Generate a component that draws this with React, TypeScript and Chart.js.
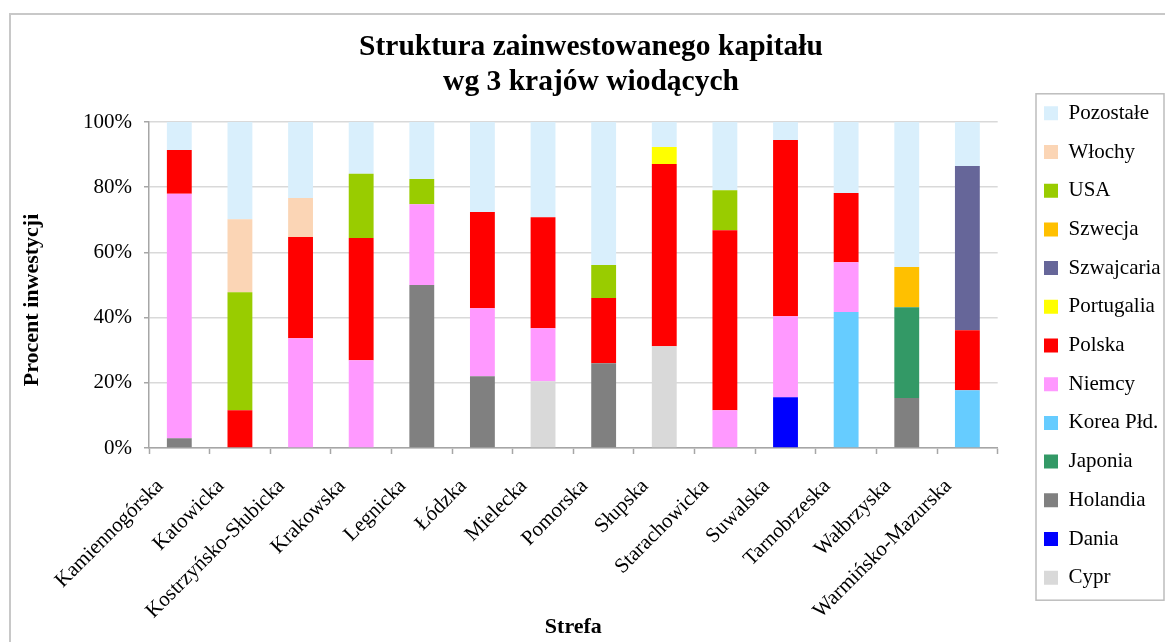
import React, { useEffect, useRef } from 'react';
import { Chart, registerables } from 'chart.js';

Chart.register(...registerables);

const categories = [
  'Kamiennogórska', 'Katowicka', 'Kostrzyńsko-Słubicka', 'Krakowska', 'Legnicka', 'Łódzka',
  'Mielecka', 'Pomorska', 'Słupska', 'Starachowicka', 'Suwalska', 'Tarnobrzeska',
  'Wałbrzyska', 'Warmińsko-Mazurska',
];

// values in % (bottom -> top of each stack)
const cypr =        [0, 0, 0, 0, 0, 0, 20.5, 0, 31.2, 0, 0, 0, 0, 0];
const dania =       [0, 0, 0, 0, 0, 0, 0, 0, 0, 0, 15.6, 0, 0, 0];
const holandia =    [3, 0, 0, 0, 50, 22, 0, 26, 0, 0, 0, 0, 15.3, 0];
const japonia =     [0, 0, 0, 0, 0, 0, 0, 0, 0, 0, 0, 0, 27.9, 0];
const koreaPld =    [0, 0, 0, 0, 0, 0, 0, 0, 0, 0, 0, 41.7, 0, 17.7];
const niemcy =      [75, 0, 33.7, 26.9, 24.8, 20.9, 16.2, 0, 0, 11.6, 24.8, 15.3, 0, 0];
const polska =      [13.4, 11.6, 31, 37.5, 0, 29.5, 34.1, 20, 55.9, 55.2, 54.1, 21.2, 0, 18.4];
const portugalia =  [0, 0, 0, 0, 0, 0, 0, 0, 5.2, 0, 0, 0, 0, 0];
const szwajcaria =  [0, 0, 0, 0, 0, 0, 0, 0, 0, 0, 0, 0, 0, 50.4];
const szwecja =     [0, 0, 0, 0, 0, 0, 0, 0, 0, 0, 0, 0, 12.3, 0];
const usa =         [0, 36.2, 0, 19.7, 7.7, 0, 0, 10.1, 0, 12.3, 0, 0, 0, 0];
const wlochy =      [0, 22.4, 12, 0, 0, 0, 0, 0, 0, 0, 0, 0, 0, 0];
const pozostale =   [8.6, 29.8, 23.3, 15.9, 17.5, 27.6, 29.2, 43.9, 7.7, 20.9, 5.5, 21.8, 44.5, 13.5];

const yTicks = [0, 20, 40, 60, 80, 100];

const seriesLabels = ['Cypr', 'Dania', 'Holandia', 'Japonia', 'Korea Płd.', 'Niemcy', 'Polska',
  'Portugalia', 'Szwajcaria', 'Szwecja', 'USA', 'Włochy', 'Pozostałe'];
const seriesData = [cypr, dania, holandia, japonia, koreaPld, niemcy, polska,
  portugalia, szwajcaria, szwecja, usa, wlochy, pozostale];
const seriesColors = ['#D9D9D9', '#0000FF', '#808080', '#339966', '#66CCFF', '#FF99FF', '#FF0000',
  '#FFFF00', '#666699', '#FFC000', '#99CC00', '#FBD5B5', '#D9EFFC'];

const FONT = "'Liberation Serif', 'Times New Roman', serif";
const LEGEND_PAD = 17.7;

const framePlugin = {
  id: 'frame',
  afterLayout(chart: any) {
    const lg = chart.legend;
    if (lg) {
      const dx = 1044 - (lg.left + LEGEND_PAD);
      const colH = lg.columnSizes && lg.columnSizes[0] ? lg.columnSizes[0].height : 503;
      const y0 = (lg.top + LEGEND_PAD + lg.bottom - colH) / 2;
      const dy = 102.8 - y0;
      lg.left += dx; lg.right += dx; lg.top += dy; lg.bottom += dy;
    }
    const tb = chart.titleBlock;
    if (tb) { tb.left += 20; tb.right += 20; }
    const ys = chart.scales && chart.scales.y;
    if (ys && !ys.__titlePatched) {
      const orig = ys.drawTitle;
      ys.drawTitle = function () {
        const t = this.top, b = this.bottom;
        this.top = t + 15; this.bottom = b + 15;
        orig.call(this);
        this.top = t; this.bottom = b;
      };
      ys.__titlePatched = true;
    }
  },
  beforeDraw(chart: any) {
    const ctx = chart.ctx;
    ctx.save();
    ctx.strokeStyle = '#C8C8C8';
    ctx.lineWidth = 2;
    ctx.strokeRect(10, 14, 1200, 700);
    ctx.restore();
  },
  afterDraw(chart: any) {
    const lg = chart.legend;
    const hb = lg && lg.legendHitBoxes;
    if (!hb || !hb.length) return;
    const first = hb[0];
    const last = hb[hb.length - 1];
    const x0 = lg.left + LEGEND_PAD - 8;
    const y0 = first.top - 9;
    const y1 = last.top + last.height + 12;
    const ctx = chart.ctx;
    ctx.save();
    ctx.strokeStyle = '#BDBDBD';
    ctx.lineWidth = 1.5;
    ctx.strokeRect(x0, y0, 128, y1 - y0);
    ctx.restore();
  },
};

export default function App() {
  const ref = useRef<HTMLCanvasElement | null>(null);

  useEffect(() => {
    if (!ref.current) return;
    Chart.defaults.font.family = FONT;
    Chart.defaults.color = '#000000';

    const chart = new Chart(ref.current, {
      type: 'bar',
      data: {
        labels: categories,
        datasets: seriesLabels.map((label, i) => ({
          label,
          data: seriesData[i],
          backgroundColor: seriesColors[i],
          borderWidth: 0,
          barPercentage: 0.41,
          categoryPercentage: 1,
        })),
      },
      options: {
        animation: false,
        responsive: true,
        maintainAspectRatio: false,
        layout: { padding: { left: 0, right: 23, top: 0, bottom: 0 } },
        plugins: {
          title: {
            display: true,
            text: ['Struktura zainwestowanego kapitału', 'wg 3 krajów wiodących'],
            font: { family: FONT, size: 29.5, weight: 'bold', lineHeight: '35px' },
            color: '#000000',
            padding: { top: 30, bottom: 22 },
          },
          legend: {
            display: true,
            position: 'right',
            reverse: true,
            labels: {
              boxWidth: 14,
              boxHeight: 14,
              padding: LEGEND_PAD,
              color: '#000000',
              font: { family: FONT, size: 21 },
            },
          },
          tooltip: { enabled: false },
        },
        scales: {
          x: {
            stacked: true,
            grid: {
              display: true,
              offset: true,
              drawOnChartArea: false,
              drawTicks: true,
              tickLength: 6,
              tickColor: '#A6A6A6',
              tickWidth: 1.5,
            },
            border: { display: true, color: '#A6A6A6', width: 1.5 },
            ticks: {
              autoSkip: false,
              minRotation: 45,
              maxRotation: 45,
              padding: 20,
              labelOffset: -19,
              color: '#000000',
              font: { family: FONT, size: 21 },
            },
            title: {
              display: true,
              text: 'Strefa',
              color: '#000000',
              font: { family: FONT, size: 22, weight: 'bold' },
              padding: { top: 4, bottom: 1 },
            },
            afterFit: (scale: any) => { scale.height = 194; },
          },
          y: {
            stacked: true,
            min: 0,
            max: 100,
            afterBuildTicks: (scale: any) => { scale.ticks = yTicks.map((v) => ({ value: v })); },
            grid: {
              color: '#D9D9D9',
              lineWidth: 1.5,
              drawTicks: true,
              tickLength: 5,
              tickColor: '#A6A6A6',
              tickWidth: 1.5,
            },
            border: { display: true, color: '#A6A6A6', width: 1.5 },
            ticks: {
              padding: 12,
              color: '#000000',
              font: { family: FONT, size: 21 },
              callback: (v: any) => v + '%',
            },
            title: {
              display: true,
              text: 'Procent inwestycji',
              color: '#000000',
              font: { family: FONT, size: 22, weight: 'bold' },
              padding: { top: 18.8, bottom: 4 },
            },
            afterFit: (scale: any) => { scale.width = 149; },
          },
        },
      },
      plugins: [framePlugin],
    } as any);

    return () => chart.destroy();
  }, []);

  return (
    <div style={{ position: 'fixed', left: 0, top: 0, width: 1165, height: 642, background: '#fff' }}>
      <canvas ref={ref} />
    </div>
  );
}
